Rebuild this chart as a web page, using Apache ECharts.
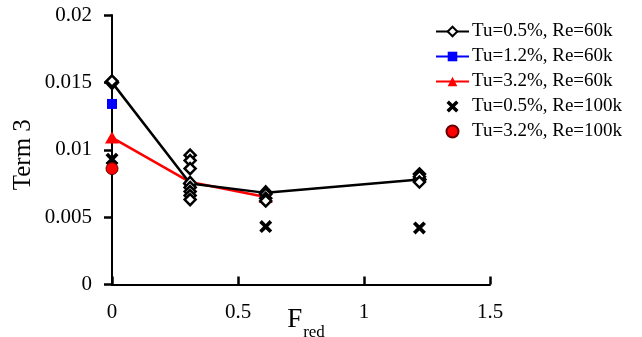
<!DOCTYPE html>
<html>
<head>
<meta charset="utf-8">
<script src="https://cdn.jsdelivr.net/npm/echarts@6/dist/echarts.min.js"></script>
<style>
  html, body { margin: 0; padding: 0; background: #fff; }
  #chart { width: 642px; height: 337px; }
</style>
</head>
<body>
<div id="chart"></div>
<script>
// Term 3 versus reduced frequency for several turbulence levels / Reynolds numbers
const xTicks = [0, 0.5, 1, 1.5];
const yTicks = [0, 0.005, 0.01, 0.015, 0.02];

// Tu=0.5%, Re=60k : averaged curve
const tu05re60Line = [[0, 0.0150], [0.31, 0.0075], [0.61, 0.0068], [1.22, 0.0078]];
// Tu=0.5%, Re=60k : individual runs
const tu05re60Runs = [
  [0, 0.0151],
  [0.31, 0.0096], [0.31, 0.0092], [0.31, 0.0086], [0.31, 0.0072], [0.31, 0.0069], [0.31, 0.0066], [0.31, 0.0063],
  [0.61, 0.0067], [0.61, 0.0064], [0.61, 0.0062],
  [1.22, 0.0082], [1.22, 0.0080], [1.22, 0.0076]
];
const tu12re60 = [[0, 0.0134]];
const tu32re60 = [[0, 0.0109], [0.31, 0.0076], [0.61, 0.0065]];
const tu05re100 = [[0, 0.0093], [0.61, 0.0043], [1.22, 0.0042]];
const tu32re100 = [[0, 0.0086]];

const names = ['Tu=0.5%, Re=60k', 'Tu=1.2%, Re=60k', 'Tu=3.2%, Re=60k', 'Tu=0.5%, Re=100k', 'Tu=3.2%, Re=100k'];

const FONT = '"Liberation Serif", "Times New Roman", serif';
const crossPath = 'path://M0,2 L2,0 L5,3 L8,0 L10,2 L7,5 L10,8 L8,10 L5,7 L2,10 L0,8 L3,5 Z';

const chart = echarts.init(document.getElementById('chart'), null, { renderer: 'canvas' });
chart.setOption({
  animation: false,
  backgroundColor: '#fff',
  grid: { left: 112, right: 152, top: 15, bottom: 52.5, outerBoundsMode: 'none' },
  legend: {
    data: names,
    orient: 'vertical',
    left: 435,
    top: 22,
    padding: 0,
    itemWidth: 33,
    itemHeight: 12,
    itemGap: 6,
    textStyle: { fontFamily: FONT, fontSize: 19, color: '#000', padding: [0, 0, 0, -2] }
  },
  xAxis: {
    type: 'value',
    min: xTicks[0],
    max: xTicks[xTicks.length - 1],
    interval: 0.5,
    splitLine: { lineStyle: { opacity: 0 } },
    axisLine: { show: true, lineStyle: { color: '#000', width: 2 } },
    axisTick: { show: true, inside: true, length: 8, lineStyle: { color: '#000', width: 2.5 } },
    axisLabel: { fontFamily: FONT, fontSize: 21, color: '#000', margin: 17 },
    name: '{a|F}{b|red}',
    nameLocation: 'middle',
    nameGap: 22,
    nameMoveOverlap: false,
    nameTextStyle: {
      padding: [0, 0, 0, 10],
      rich: {
        a: { fontFamily: FONT, fontSize: 27, color: '#000', verticalAlign: 'top' },
        b: { fontFamily: FONT, fontSize: 17, color: '#000', verticalAlign: 'top', padding: [18, 0, 0, 1] }
      }
    }
  },
  yAxis: {
    type: 'value',
    min: yTicks[0],
    max: yTicks[yTicks.length - 1],
    interval: 0.005,
    splitLine: { lineStyle: { opacity: 0 } },
    axisLine: { show: true, lineStyle: { color: '#000', width: 2 } },
    axisTick: { show: true, length: 8, lineStyle: { color: '#000', width: 2.5 } },
    axisLabel: { fontFamily: FONT, fontSize: 21, color: '#000', margin: 20 },
    name: 'Term 3',
    nameLocation: 'middle',
    nameGap: 76,
    nameMoveOverlap: false,
    nameTextStyle: { fontFamily: FONT, fontSize: 25, color: '#000', padding: [0, 10, 0, 0] }
  },
  series: [
    {
      name: names[2], type: 'line', data: tu32re60, z: 2,
      lineStyle: { color: '#ff0000', width: 2.5 },
      itemStyle: { color: '#ff0000' },
      symbol: 'triangle', symbolSize: [14, 12]
    },
    {
      name: names[0], type: 'line', data: tu05re60Line, z: 3,
      lineStyle: { color: '#000', width: 2.5 },
      itemStyle: { color: '#fff', borderColor: '#000', borderWidth: 2.5 },
      symbol: 'diamond', symbolSize: [12, 13]
    },
    {
      name: names[0], type: 'scatter', data: tu05re60Runs, z: 3,
      itemStyle: { color: '#fff', borderColor: '#000', borderWidth: 2.5, opacity: 1 },
      symbol: 'diamond', symbolSize: [11, 11]
    },
    {
      name: names[1], type: 'line', data: tu12re60, z: 4,
      lineStyle: { color: '#0000ff', width: 2.5 },
      itemStyle: { color: '#0000ff' },
      symbol: 'rect', symbolSize: 10
    },
    {
      name: names[3], type: 'scatter', data: tu05re100, z: 4,
      itemStyle: { color: '#000', opacity: 1 },
      symbol: crossPath, symbolSize: 13
    },
    {
      name: names[4], type: 'scatter', data: tu32re100, z: 5,
      itemStyle: { color: '#ff0000', borderColor: '#600', borderWidth: 1, opacity: 1 },
      symbol: 'circle', symbolSize: 12
    }
  ]
});
</script>
</body>
</html>
